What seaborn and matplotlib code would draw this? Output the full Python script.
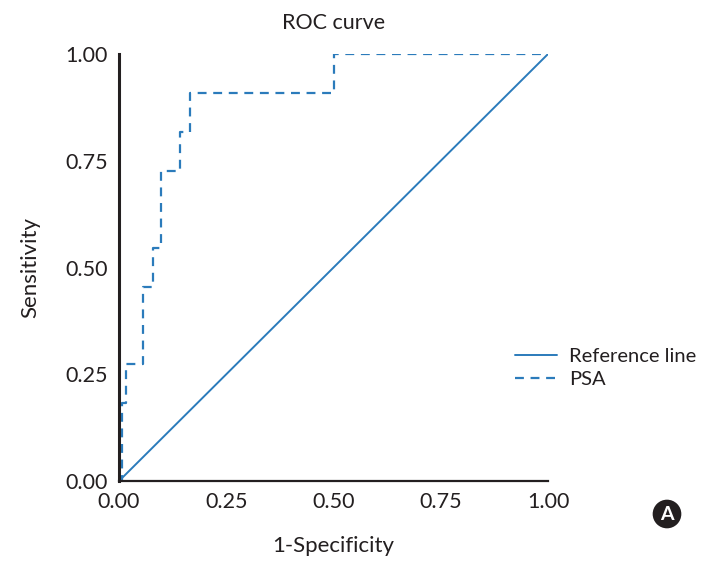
import numpy as np
import pandas as pd
import seaborn as sns
import matplotlib.pyplot as plt

# ROC step vertices
fpr = [0.0, 0.008, 0.017, 0.055, 0.079, 0.097, 0.141, 0.165, 0.500, 1.000]
tpr = [0.0, 0.182, 0.273, 0.455, 0.545, 0.727, 0.818, 0.909, 1.000, 1.000]
ref_x = [0.0, 1.0]
ref_y = [0.0, 1.0]
ticks = [0.0, 0.25, 0.5, 0.75, 1.0]
tick_labels = ['0.00', '0.25', '0.50', '0.75', '1.00']

blue = '#2b7bbb'
ink = '#231f20'

sns.set_style('white')
plt.rcParams['font.family'] = ['Lato', 'DejaVu Sans']

fig = plt.figure(figsize=(7.14, 5.71), dpi=100)
ax = fig.add_axes([0.1667, 0.1576, 0.6008, 0.7478])

roc = pd.DataFrame({'fpr': fpr, 'tpr': tpr})
ref = pd.DataFrame({'x': ref_x, 'y': ref_y})

sns.lineplot(data=ref, x='x', y='y', ax=ax, color=blue, lw=1.4,
             estimator=None, sort=False, label='Reference line')
sns.lineplot(data=roc, x='fpr', y='tpr', ax=ax, color=blue, lw=1.6,
             estimator=None, sort=False, drawstyle='steps-post',
             linestyle=(0, (4, 3)), label='PSA')

ax.set_xlim(0, 1)
ax.set_ylim(0, 1)
ax.set_xticks(ticks)
ax.set_yticks(ticks)
ax.set_xticklabels(tick_labels)
ax.set_yticklabels(tick_labels)
ax.tick_params(direction='in', length=5, width=1, color='#777777',
               labelsize=15.5, labelcolor=ink, pad=8)
for s in ['top', 'right']:
    ax.spines[s].set_visible(False)
ax.spines['left'].set_linewidth(2.2)
ax.spines['left'].set_color(ink)
ax.spines['bottom'].set_linewidth(1.6)
ax.spines['bottom'].set_color(ink)

ax.set_title('ROC curve', fontsize=15.5, color=ink, pad=18)
ax.set_xlabel('1-Specificity', fontsize=16, color=ink, labelpad=17)
ax.set_ylabel('Sensitivity', fontsize=16, color=ink, labelpad=18)

handles, labels = ax.get_legend_handles_labels()
ax.get_legend().remove()
fig.legend(handles, labels, loc='center left',
           bbox_to_anchor=(515 / 714, 1 - 368 / 571),
           frameon=False, fontsize=14.5, handlelength=2.1, handletextpad=0.6,
           labelspacing=0.25, borderpad=0, borderaxespad=0, labelcolor=ink)

fig.text(667 / 714, 1 - 514 / 571, 'A', ha='center', va='center',
         fontsize=14, fontweight='bold', color='white',
         bbox=dict(boxstyle='circle,pad=0.3', fc=ink, ec='none'))

fig.savefig('out.png', dpi=100)
